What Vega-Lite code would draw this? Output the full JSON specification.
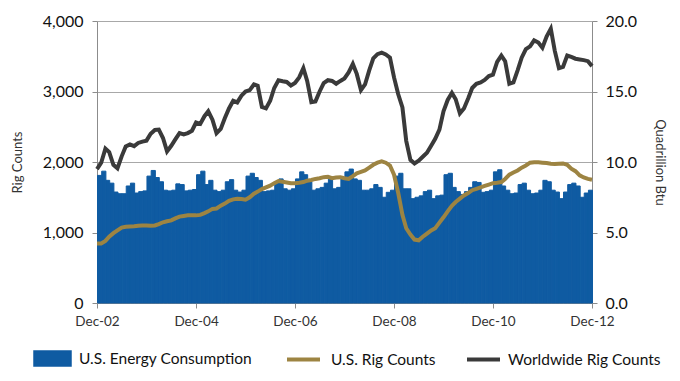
{
  "$schema": "https://vega.github.io/schema/vega-lite/v6.json",
  "width": 495,
  "height": 282,
  "autosize": "none",
  "padding": {"left": 97, "top": 21, "right": 88, "bottom": 78},
  "background": "white",
  "config": {
    "view": {"stroke": null},
    "font": "Lato",
    "axis": {"domainColor": "#8c8c8c", "tickColor": "#8c8c8c", "gridColor": "#a8a8a8", "labelFont": "Lato", "titleFont": "Lato", "titleFontWeight": "normal", "labelColor": "#111111", "titleColor": "#333333"},
    "legend": {"labelFont": "Lato", "labelFontSize": 15.5, "labelColor": "#111111", "padding": 0, "labelLimit": 400}
  },
  "data": {"values": [
    {"date": "2002-12-01", "energy": 9.05, "us": 845, "world": 1900},
    {"date": "2003-01-01", "energy": 9.35, "us": 845, "world": 1990},
    {"date": "2003-02-01", "energy": 8.7, "us": 880, "world": 2190},
    {"date": "2003-03-01", "energy": 8.5, "us": 940, "world": 2140},
    {"date": "2003-04-01", "energy": 7.87, "us": 990, "world": 1960},
    {"date": "2003-05-01", "energy": 7.75, "us": 1030, "world": 1910},
    {"date": "2003-06-01", "energy": 7.75, "us": 1070, "world": 2080},
    {"date": "2003-07-01", "energy": 8.3, "us": 1080, "world": 2220},
    {"date": "2003-08-01", "energy": 8.5, "us": 1085, "world": 2250},
    {"date": "2003-09-01", "energy": 7.8, "us": 1088, "world": 2225},
    {"date": "2003-10-01", "energy": 7.9, "us": 1095, "world": 2270},
    {"date": "2003-11-01", "energy": 7.95, "us": 1100, "world": 2290},
    {"date": "2003-12-01", "energy": 9.0, "us": 1100, "world": 2303},
    {"date": "2004-01-01", "energy": 9.4, "us": 1095, "world": 2400},
    {"date": "2004-02-01", "energy": 8.9, "us": 1100, "world": 2455},
    {"date": "2004-03-01", "energy": 8.6, "us": 1120, "world": 2460},
    {"date": "2004-04-01", "energy": 8.0, "us": 1145, "world": 2340},
    {"date": "2004-05-01", "energy": 7.95, "us": 1160, "world": 2150},
    {"date": "2004-06-01", "energy": 8.0, "us": 1172, "world": 2230},
    {"date": "2004-07-01", "energy": 8.45, "us": 1200, "world": 2320},
    {"date": "2004-08-01", "energy": 8.4, "us": 1225, "world": 2410},
    {"date": "2004-09-01", "energy": 7.95, "us": 1235, "world": 2390},
    {"date": "2004-10-01", "energy": 8.0, "us": 1243, "world": 2410},
    {"date": "2004-11-01", "energy": 8.05, "us": 1243, "world": 2444},
    {"date": "2004-12-01", "energy": 9.1, "us": 1243, "world": 2560},
    {"date": "2005-01-01", "energy": 9.35, "us": 1250, "world": 2540},
    {"date": "2005-02-01", "energy": 8.4, "us": 1275, "world": 2650},
    {"date": "2005-03-01", "energy": 8.7, "us": 1300, "world": 2720},
    {"date": "2005-04-01", "energy": 8.0, "us": 1335, "world": 2600},
    {"date": "2005-05-01", "energy": 7.9, "us": 1340, "world": 2410},
    {"date": "2005-06-01", "energy": 8.0, "us": 1380, "world": 2470},
    {"date": "2005-07-01", "energy": 8.6, "us": 1410, "world": 2620},
    {"date": "2005-08-01", "energy": 8.75, "us": 1450, "world": 2760},
    {"date": "2005-09-01", "energy": 8.0, "us": 1470, "world": 2868},
    {"date": "2005-10-01", "energy": 7.87, "us": 1480, "world": 2845},
    {"date": "2005-11-01", "energy": 8.0, "us": 1475, "world": 2940},
    {"date": "2005-12-01", "energy": 9.0, "us": 1465, "world": 3000},
    {"date": "2006-01-01", "energy": 9.2, "us": 1500, "world": 3020},
    {"date": "2006-02-01", "energy": 8.9, "us": 1550, "world": 3100},
    {"date": "2006-03-01", "energy": 8.7, "us": 1580, "world": 3080},
    {"date": "2006-04-01", "energy": 7.9, "us": 1615, "world": 2780},
    {"date": "2006-05-01", "energy": 7.95, "us": 1640, "world": 2760},
    {"date": "2006-06-01", "energy": 8.0, "us": 1665, "world": 2868},
    {"date": "2006-07-01", "energy": 8.5, "us": 1700, "world": 3050},
    {"date": "2006-08-01", "energy": 8.8, "us": 1730, "world": 3160},
    {"date": "2006-09-01", "energy": 8.1, "us": 1720, "world": 3145},
    {"date": "2006-10-01", "energy": 8.0, "us": 1710, "world": 3135},
    {"date": "2006-11-01", "energy": 8.1, "us": 1700, "world": 3085},
    {"date": "2006-12-01", "energy": 8.8, "us": 1700, "world": 3120},
    {"date": "2007-01-01", "energy": 9.3, "us": 1705, "world": 3200},
    {"date": "2007-02-01", "energy": 9.1, "us": 1715, "world": 3330},
    {"date": "2007-03-01", "energy": 8.6, "us": 1735, "world": 3150},
    {"date": "2007-04-01", "energy": 8.0, "us": 1745, "world": 2850},
    {"date": "2007-05-01", "energy": 8.1, "us": 1760, "world": 2860},
    {"date": "2007-06-01", "energy": 8.2, "us": 1770, "world": 3000},
    {"date": "2007-07-01", "energy": 8.5, "us": 1785, "world": 3120},
    {"date": "2007-08-01", "energy": 8.9, "us": 1790, "world": 3160},
    {"date": "2007-09-01", "energy": 8.1, "us": 1770, "world": 3150},
    {"date": "2007-10-01", "energy": 8.2, "us": 1780, "world": 3110},
    {"date": "2007-11-01", "energy": 8.9, "us": 1785, "world": 3150},
    {"date": "2007-12-01", "energy": 9.3, "us": 1770, "world": 3185},
    {"date": "2008-01-01", "energy": 9.5, "us": 1760, "world": 3270},
    {"date": "2008-02-01", "energy": 8.8, "us": 1800, "world": 3390},
    {"date": "2008-03-01", "energy": 8.7, "us": 1840, "world": 3250},
    {"date": "2008-04-01", "energy": 8.0, "us": 1860, "world": 3020},
    {"date": "2008-05-01", "energy": 8.0, "us": 1880, "world": 3100},
    {"date": "2008-06-01", "energy": 8.1, "us": 1920, "world": 3300},
    {"date": "2008-07-01", "energy": 8.4, "us": 1960, "world": 3470},
    {"date": "2008-08-01", "energy": 8.2, "us": 1990, "world": 3530},
    {"date": "2008-09-01", "energy": 7.5, "us": 2010, "world": 3550},
    {"date": "2008-10-01", "energy": 7.85, "us": 1990, "world": 3525},
    {"date": "2008-11-01", "energy": 8.0, "us": 1950, "world": 3480},
    {"date": "2008-12-01", "energy": 9.0, "us": 1820, "world": 3200},
    {"date": "2009-01-01", "energy": 9.2, "us": 1560, "world": 2960},
    {"date": "2009-02-01", "energy": 8.1, "us": 1250, "world": 2774},
    {"date": "2009-03-01", "energy": 8.1, "us": 1060, "world": 2300},
    {"date": "2009-04-01", "energy": 7.4, "us": 970, "world": 2030},
    {"date": "2009-05-01", "energy": 7.5, "us": 900, "world": 1980},
    {"date": "2009-06-01", "energy": 7.6, "us": 890, "world": 2020},
    {"date": "2009-07-01", "energy": 7.9, "us": 940, "world": 2075},
    {"date": "2009-08-01", "energy": 8.0, "us": 985, "world": 2130},
    {"date": "2009-09-01", "energy": 7.4, "us": 1030, "world": 2230},
    {"date": "2009-10-01", "energy": 7.6, "us": 1060, "world": 2330},
    {"date": "2009-11-01", "energy": 7.65, "us": 1140, "world": 2460},
    {"date": "2009-12-01", "energy": 9.1, "us": 1215, "world": 2720},
    {"date": "2010-01-01", "energy": 9.2, "us": 1300, "world": 2880},
    {"date": "2010-02-01", "energy": 8.2, "us": 1380, "world": 2980},
    {"date": "2010-03-01", "energy": 7.9, "us": 1432, "world": 2890},
    {"date": "2010-04-01", "energy": 7.7, "us": 1480, "world": 2690},
    {"date": "2010-05-01", "energy": 7.9, "us": 1525, "world": 2760},
    {"date": "2010-06-01", "energy": 8.2, "us": 1560, "world": 2900},
    {"date": "2010-07-01", "energy": 8.6, "us": 1600, "world": 3050},
    {"date": "2010-08-01", "energy": 8.55, "us": 1620, "world": 3110},
    {"date": "2010-09-01", "energy": 7.85, "us": 1640, "world": 3130},
    {"date": "2010-10-01", "energy": 7.9, "us": 1660, "world": 3165},
    {"date": "2010-11-01", "energy": 8.0, "us": 1680, "world": 3220},
    {"date": "2010-12-01", "energy": 9.3, "us": 1700, "world": 3240},
    {"date": "2011-01-01", "energy": 9.45, "us": 1705, "world": 3420},
    {"date": "2011-02-01", "energy": 8.3, "us": 1715, "world": 3510},
    {"date": "2011-03-01", "energy": 8.0, "us": 1760, "world": 3430},
    {"date": "2011-04-01", "energy": 7.75, "us": 1820, "world": 3110},
    {"date": "2011-05-01", "energy": 7.8, "us": 1850, "world": 3130},
    {"date": "2011-06-01", "energy": 8.4, "us": 1880, "world": 3300},
    {"date": "2011-07-01", "energy": 8.5, "us": 1920, "world": 3480},
    {"date": "2011-08-01", "energy": 8.0, "us": 1950, "world": 3600},
    {"date": "2011-09-01", "energy": 7.75, "us": 1990, "world": 3640},
    {"date": "2011-10-01", "energy": 7.8, "us": 1997, "world": 3725},
    {"date": "2011-11-01", "energy": 8.0, "us": 1995, "world": 3695},
    {"date": "2011-12-01", "energy": 8.7, "us": 1990, "world": 3620},
    {"date": "2012-01-01", "energy": 8.6, "us": 1985, "world": 3780},
    {"date": "2012-02-01", "energy": 8.0, "us": 1975, "world": 3890},
    {"date": "2012-03-01", "energy": 7.87, "us": 1970, "world": 3580},
    {"date": "2012-04-01", "energy": 7.4, "us": 1975, "world": 3330},
    {"date": "2012-05-01", "energy": 7.87, "us": 1980, "world": 3350},
    {"date": "2012-06-01", "energy": 8.4, "us": 1960, "world": 3510},
    {"date": "2012-07-01", "energy": 8.5, "us": 1905, "world": 3490},
    {"date": "2012-08-01", "energy": 8.3, "us": 1870, "world": 3465},
    {"date": "2012-09-01", "energy": 7.5, "us": 1810, "world": 3455},
    {"date": "2012-10-01", "energy": 7.8, "us": 1780, "world": 3445},
    {"date": "2012-11-01", "energy": 8.0, "us": 1760, "world": 3430},
    {"date": "2012-12-01", "energy": null, "us": 1748, "world": 3360}
  ]},
  "layer": [
    {
      "transform": [{"filter": "datum.energy != null"}],
      "mark": {"type": "bar", "timeUnitBandSize": 1, "timeUnitBandPosition": 0, "binSpacing": 0, "stroke": "#0f5ba2", "strokeWidth": 1},
      "encoding": {
        "x": {"field": "date", "timeUnit": "utcyearmonth", "type": "temporal",
          "scale": {"type": "utc", "domain": [{"year": 2002, "month": 12, "date": 1, "utc": true}, {"year": 2012, "month": 12, "date": 1, "utc": true}]},
          "axis": {"title": null, "format": "%b-%y", "grid": false, "tickSize": 5, "labelPadding": 6, "labelFontSize": 13.5, "labelColor": "#333333", "labelFlush": false, "labelAlign": "center", "labelOverlap": false,
            "values": [{"year": 2002, "month": 12, "date": 1, "utc": true}, {"year": 2004, "month": 12, "date": 1, "utc": true}, {"year": 2006, "month": 12, "date": 1, "utc": true}, {"year": 2008, "month": 12, "date": 1, "utc": true}, {"year": 2010, "month": 12, "date": 1, "utc": true}, {"year": 2012, "month": 12, "date": 1, "utc": true}]}},
        "y": {"field": "energy", "type": "quantitative", "scale": {"domain": [0, 20]},
          "axis": {"orient": "right", "title": "Quadrillion Btu", "values": [0, 5, 10, 15, 20], "format": ".1f", "grid": false, "tickSize": 5, "labelPadding": 8, "labelFontSize": 16, "titleFontSize": 13, "titlePadding": 16}},
        "fill": {"datum": "U.S. Energy Consumption", "scale": {"range": ["#0f5ba2"]},
          "legend": {"orient": "none", "legendX": -64, "legendY": 318, "title": null, "symbolType": "M-1,-0.4H1V0.4H-1Z", "symbolSize": 1369, "labelOffset": 7}}
      }
    },
    {
      "resolve": {"scale": {"stroke": "independent"}},
      "layer": [
        {
          "mark": {"type": "line", "strokeWidth": 4},
          "encoding": {
            "x": {"field": "date", "type": "temporal",
              "scale": {"type": "utc", "domain": [{"year": 2002, "month": 12, "date": 1, "utc": true}, {"year": 2012, "month": 12, "date": 1, "utc": true}]},
              "axis": {"title": null, "format": "%b-%y", "grid": false, "tickSize": 5, "labelPadding": 6, "labelFontSize": 13.5, "labelColor": "#333333", "labelFlush": false, "labelAlign": "center", "labelOverlap": false,
                "values": [{"year": 2002, "month": 12, "date": 1, "utc": true}, {"year": 2004, "month": 12, "date": 1, "utc": true}, {"year": 2006, "month": 12, "date": 1, "utc": true}, {"year": 2008, "month": 12, "date": 1, "utc": true}, {"year": 2010, "month": 12, "date": 1, "utc": true}, {"year": 2012, "month": 12, "date": 1, "utc": true}]}},
            "y": {"field": "us", "type": "quantitative", "scale": {"domain": [0, 4000]},
              "axis": {"title": "Rig Counts", "values": [0, 1000, 2000, 3000, 4000], "format": ",d", "grid": true, "tickSize": 5, "labelPadding": 9, "labelFontSize": 16, "titleFontSize": 13, "titlePadding": 18}},
            "stroke": {"datum": "U.S. Rig Counts", "scale": {"range": ["#9d8442"]},
              "legend": {"orient": "none", "legendX": 188, "legendY": 320, "title": null, "symbolType": "stroke", "symbolSize": 1089, "symbolStrokeWidth": 4, "labelOffset": 9}}
          }
        },
        {
          "mark": {"type": "line", "strokeWidth": 4},
          "encoding": {
            "x": {"field": "date", "type": "temporal",
              "scale": {"type": "utc", "domain": [{"year": 2002, "month": 12, "date": 1, "utc": true}, {"year": 2012, "month": 12, "date": 1, "utc": true}]},
              "axis": {"title": null, "format": "%b-%y", "grid": false, "tickSize": 5, "labelPadding": 6, "labelFontSize": 13.5, "labelColor": "#333333", "labelFlush": false, "labelAlign": "center", "labelOverlap": false,
                "values": [{"year": 2002, "month": 12, "date": 1, "utc": true}, {"year": 2004, "month": 12, "date": 1, "utc": true}, {"year": 2006, "month": 12, "date": 1, "utc": true}, {"year": 2008, "month": 12, "date": 1, "utc": true}, {"year": 2010, "month": 12, "date": 1, "utc": true}, {"year": 2012, "month": 12, "date": 1, "utc": true}]}},
            "y": {"field": "world", "type": "quantitative", "scale": {"domain": [0, 4000]},
              "axis": {"title": "Rig Counts", "values": [0, 1000, 2000, 3000, 4000], "format": ",d", "grid": true, "tickSize": 5, "labelPadding": 9, "labelFontSize": 16, "titleFontSize": 13, "titlePadding": 18}},
            "stroke": {"datum": "Worldwide Rig Counts", "scale": {"range": ["#3a3a3a"]},
              "legend": {"orient": "none", "legendX": 368, "legendY": 320, "title": null, "symbolType": "stroke", "symbolSize": 1089, "symbolStrokeWidth": 4, "labelOffset": 6}}
          }
        }
      ]
    }
  ],
  "resolve": {"scale": {"y": "independent"}}
}
